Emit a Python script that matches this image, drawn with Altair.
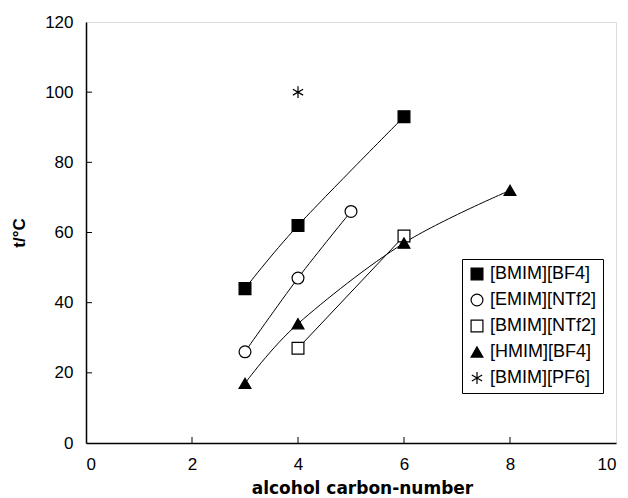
import altair as alt
import pandas as pd

series_names = ["[BMIM][BF4]", "[EMIM][NTf2]", "[BMIM][NTf2]", "[HMIM][BF4]", "[BMIM][PF6]"]
carbon = [
    [3, 4, 6],
    [3, 4, 5],
    [4, 6],
    [3, 4, 6, 8],
    [4],
]
temps = [
    [44, 62, 93],
    [26, 47, 66],
    [27, 59],
    [17, 34, 57, 72],
    [100],
]
x_ticks = [0, 2, 4, 6, 8, 10]
y_ticks = [0, 20, 40, 60, 80, 100, 120]
x_inner_ticks = [2, 4, 6, 8]
y_inner_ticks = [20, 40, 60, 80, 100]

shapes = ["square", "circle", "square", "triangle-up",
          "M0,-1L0,1M-0.87,-0.5L0.87,0.5M-0.87,0.5L0.87,-0.5"]
fills = ["black", "white", "white", "black", "black"]
strokes = ["black", "black", "black", "black", "black"]

rows = []
for name, xs, ys in zip(series_names, carbon, temps):
    for i, (a, b) in enumerate(zip(xs, ys)):
        rows.append({"series": name, "n": a, "t": b, "order": i})
df = pd.DataFrame(rows)

xtick_df = pd.DataFrame({"n": x_inner_ticks, "t": [0] * len(x_inner_ticks)})
ytick_df = pd.DataFrame({"n": [0] * len(y_inner_ticks), "t": y_inner_ticks})

FONT = "Liberation Sans"
xs = alt.Scale(domain=[0, 10], nice=False, zero=False)
ys = alt.Scale(domain=[0, 120], nice=False, zero=False)

main_x = alt.Axis(orient="bottom", values=x_ticks, ticks=False, tickSize=0, grid=False,
                  domain=True, domainColor="black", domainWidth=1.5,
                  labelFont=FONT, labelFontSize=17, labelColor="black", labelPadding=13,
                  title="alcohol carbon-number", titleFont="DejaVu Sans", titleFontSize=17,
                  titleFontWeight="bold", titleColor="black", titlePadding=8, titleX=276)
main_y = alt.Axis(orient="left", values=y_ticks, ticks=False, tickSize=0, grid=False,
                  domain=True, domainColor="black", domainWidth=1.5,
                  labelFont=FONT, labelFontSize=17, labelColor="black", labelPadding=13,
                  title="t/°C", titleFont=FONT, titleFontSize=17,
                  titleFontWeight="bold", titleColor="black", titlePadding=16)

X = alt.X("n:Q", scale=xs, axis=main_x)
Y = alt.Y("t:Q", scale=ys, axis=main_y)

base = alt.Chart(df)

lines = base.mark_line(color="black", strokeWidth=1, interpolate="cardinal").encode(
    x=X, y=Y, detail="series:N", order="order:Q",
)

legend = alt.Legend(orient="none", legendX=376, legendY=237, title=None,
                    labelFont=FONT, labelFontSize=18, labelColor="black", labelOffset=4,
                    symbolSize=140, symbolStrokeWidth=1.2,
                    strokeColor="black", fillColor="white", padding=6, rowPadding=8,
                    labelLimit=300)

points = base.mark_point(filled=True, strokeWidth=1.2, opacity=1, size=140).encode(
    x=X, y=Y,
    shape=alt.Shape("series:N", scale=alt.Scale(domain=series_names, range=shapes), legend=legend),
    fill=alt.Fill("series:N", scale=alt.Scale(domain=series_names, range=fills), legend=legend),
    stroke=alt.Stroke("series:N", scale=alt.Scale(domain=series_names, range=strokes), legend=legend),
)

# inward-pointing axis ticks
xticks = alt.Chart(xtick_df).mark_rule(color="black", strokeWidth=1, y2Offset=-6).encode(
    x=X, y=Y, y2="t:Q")
yticks = alt.Chart(ytick_df).mark_rule(color="black", strokeWidth=1, x2Offset=6).encode(
    x=X, y=Y, x2="n:Q")

chart = alt.layer(xticks, yticks, lines, points).properties(
    width=530, height=421,
    padding={"left": 86, "top": 22, "right": 12, "bottom": 55},
    autosize=alt.AutoSizeParams(type="none"),
).configure_view(stroke="black", strokeWidth=1.5).configure(background="white")

chart.save("out.html", embed_options={"renderer": "svg", "actions": False})
